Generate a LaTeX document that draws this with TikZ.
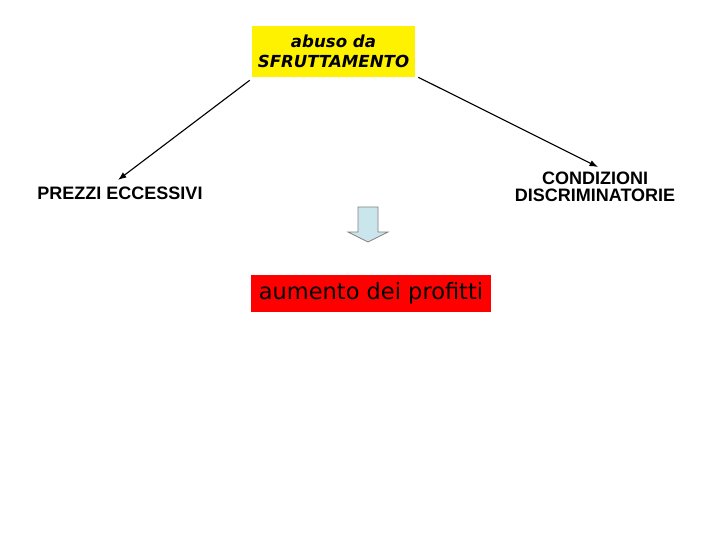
\documentclass[tikz,border=0pt]{standalone}
\usepackage{fontspec}
\setmainfont{Liberation Sans}
\newfontfamily\verdanafont{DejaVu Sans}
\usetikzlibrary{arrows.meta}
\definecolor{arrowblue}{RGB}{202,230,236}
\begin{document}
\begin{tikzpicture}[x=0.025cm,y=-0.025cm]
\tikzset{
  capslabel/.style={font=\fontsize{12.8}{12}\selectfont\bfseries, align=center, inner sep=0pt},
  linkarrow/.style={-{Latex[length=6pt,width=4.5pt]}, line width=0.8pt},
}
\useasboundingbox (0,0) rectangle (720,540);

\node[fill=yellow, minimum width=163*0.025cm, minimum height=51*0.025cm, inner sep=0pt,
  align=center, font=\verdanafont\fontsize{11.8}{14.5}\selectfont\bfseries\itshape] (abuse) at (333.5,51.5)
{abuso da\\SFRUTTAMENTO};

\node[capslabel] (prices) at (120,193) {PREZZI ECCESSIVI};
\node[capslabel] (conditions) at (595,187) {CONDIZIONI\\DISCRIMINATORIE};

% block arrow
\draw[gray, fill=arrowblue, line width=0.5pt]
  (358,207) -- (378,207) -- (378,232) -- (388,232) -- (368,242) -- (348,232) -- (358,232) -- cycle;

\node[fill=red, minimum width=240*0.025cm, minimum height=37*0.025cm, inner sep=0pt,
  font=\verdanafont\fontsize{16}{18}\selectfont] (profits) at (371,293.5) {aumento dei profitti};

\coordinate (l0) at ([shift={(-2,3)}]abuse.south west);
\coordinate (l1) at (118,180);
\coordinate (r0) at ([shift={(3,0)}]abuse.south east);
\coordinate (r1) at (598,167);
\draw[linkarrow] (l0) -- (l1);
\draw[linkarrow] (r0) -- (r1);
\end{tikzpicture}
\end{document}
